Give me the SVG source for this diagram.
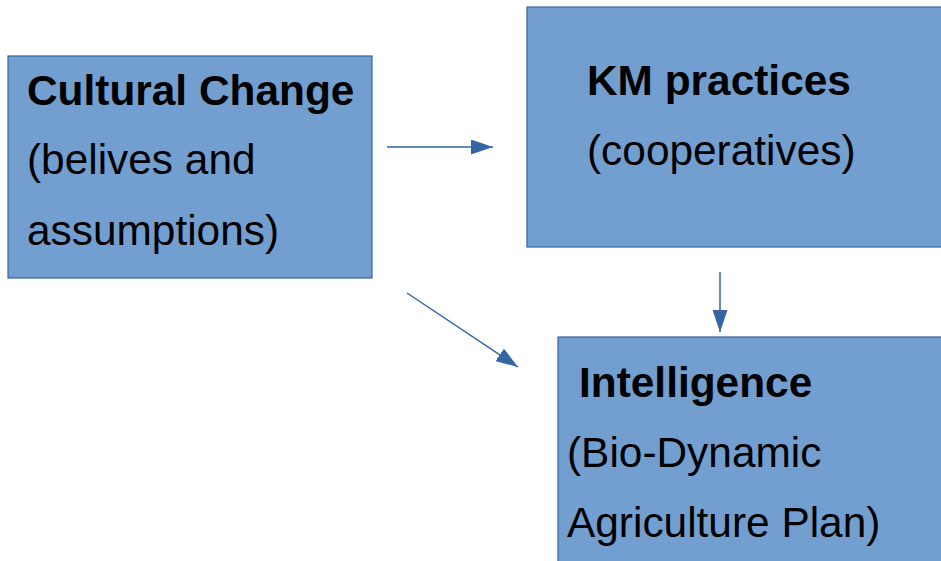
<svg xmlns="http://www.w3.org/2000/svg" width="941" height="561" viewBox="0 0 941 561">
  <style>
    .box { fill: #729fcf; stroke: #3465a4; stroke-width: 1.2; }
    .t { font-family: "Liberation Sans", Arial, sans-serif; font-size: 42.4px; fill: #000; }
    .b { font-weight: bold; }
    .edge { stroke: #3465a4; stroke-width: 1.5; fill: none; marker-end: url(#head); }
  </style>
  <defs>
    <marker id="head" viewBox="0 0 22 15" refX="22" refY="7.5" markerWidth="22" markerHeight="15" markerUnits="userSpaceOnUse" orient="auto">
      <path d="M0,0 L22,7.5 L0,15 Z" fill="#3465a4"/>
    </marker>
  </defs>
  <rect width="941" height="561" fill="#fff"/>

  <g id="cultural-change">
    <rect class="box" x="8" y="56" width="364" height="222"/>
    <text class="t b" x="27" y="105">Cultural Change</text>
    <text class="t" x="27" y="174">(belives and</text>
    <text class="t" x="27" y="245">assumptions)</text>
  </g>

  <g id="km-practices">
    <rect class="box" x="527" y="7" width="420" height="240"/>
    <text class="t b" x="587" y="95">KM practices</text>
    <text class="t" x="587" y="165">(cooperatives)</text>
  </g>

  <g id="intelligence">
    <rect class="box" x="558" y="337" width="390" height="240"/>
    <text class="t b" x="579" y="397">Intelligence</text>
    <text class="t" x="567" y="467">(Bio-Dynamic</text>
    <text class="t" x="567" y="537">Agriculture Plan)</text>
  </g>

  <g id="connectors">
    <line class="edge" x1="387" y1="147" x2="493" y2="147"/>
    <line class="edge" x1="407" y1="293" x2="518" y2="367"/>
    <line class="edge" x1="720" y1="272" x2="720" y2="332"/>
  </g>
</svg>
